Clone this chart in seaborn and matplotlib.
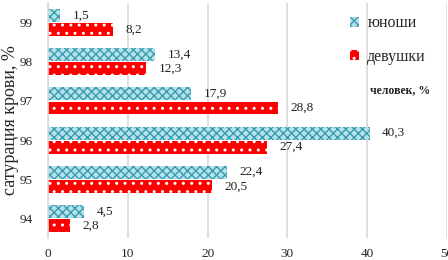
import pandas as pd
import matplotlib
matplotlib.use("Agg")
import matplotlib.pyplot as plt
import seaborn as sns
from matplotlib.patches import Patch

# данные: сатурация крови (%), доля человек (%)
levels = ["99", "98", "97", "96", "95", "94"]
boys = [1.5, 13.4, 17.9, 40.3, 22.4, 4.5]
girls = [8.2, 12.3, 28.8, 27.4, 20.5, 2.8]
groups = ["юноши", "девушки"]
x_ticks = [0, 10, 20, 30, 40, 50]

CYAN_FACE = "#b3e3e9"
CYAN_HATCH = "#3a9bb0"
RED_FACE = "#ff0000"
RED_HATCH = "#ffffff"


def main():
    sns.set_theme(style="white")
    plt.rcParams["font.family"] = ["Liberation Serif", "DejaVu Serif"]
    plt.rcParams["hatch.linewidth"] = 1.0

    df = pd.DataFrame({
        "level": levels * 2,
        "value": boys + girls,
        "group": [groups[0]] * len(levels) + [groups[1]] * len(levels),
    })

    fig = plt.figure(figsize=(4.48, 2.6), dpi=100)
    ax = fig.add_axes([0.107, 0.085, 0.891, 0.903])

    sns.barplot(data=df, y="level", x="value", hue="group", order=levels,
                hue_order=groups, orient="h", width=0.72, gap=0.08,
                palette=[CYAN_FACE, RED_FACE], legend=False, ax=ax)

    styles = [(CYAN_FACE, CYAN_HATCH, "xxxx"), (RED_FACE, RED_HATCH, "..")]
    for cont, (face, hcol, hatch) in zip(ax.containers, styles):
        for bar in cont:
            bar.set_facecolor(face)
            bar.set_edgecolor(hcol)
            bar.set_hatch(hatch)
            bar.set_linewidth(0)
        vals = [b.get_width() for b in cont]
        ax.bar_label(cont, labels=[f"{v:.1f}".replace(".", ",") for v in vals],
                     padding=9, fontsize=9.5, color="#222222")

    ax.set_xlim(0, 50)
    ax.set_xticks(x_ticks)
    ax.set_xticklabels([str(t) for t in x_ticks], fontsize=9.5)
    ax.tick_params(axis="y", labelsize=9.5, pad=11, length=0)
    ax.tick_params(axis="x", pad=7, length=0)
    ax.set_xlabel("")
    ax.set_ylabel("")
    fig.text(11 / 448, 0.54, "сатурация крови, %", fontsize=13, rotation=90,
             ha="center", va="center")

    ax.grid(axis="x", color="#d9d9d9", linewidth=1.2)
    ax.set_axisbelow(True)
    for side in ["top", "right", "bottom"]:
        ax.spines[side].set_visible(False)
    ax.spines["left"].set_color("#d9d9d9")
    ax.spines["left"].set_linewidth(1.2)

    handles = [Patch(facecolor=CYAN_FACE, edgecolor=CYAN_HATCH, hatch="xxxx", linewidth=0),
               Patch(facecolor=RED_FACE, edgecolor=RED_HATCH, hatch="..", linewidth=0)]
    ax.legend(handles, groups, loc="upper left", bbox_to_anchor=(0.74, 0.975),
              frameon=False, fontsize=11.5, handlelength=0.6, handleheight=0.6,
              handletextpad=0.5, labelspacing=1.1, borderaxespad=0)
    fig.text(0.826, 0.655, "человек, %", fontsize=8.5, fontweight="bold",
             ha="left", va="center")

    fig.savefig("out.png", dpi=100)


if __name__ == "__main__":
    main()
